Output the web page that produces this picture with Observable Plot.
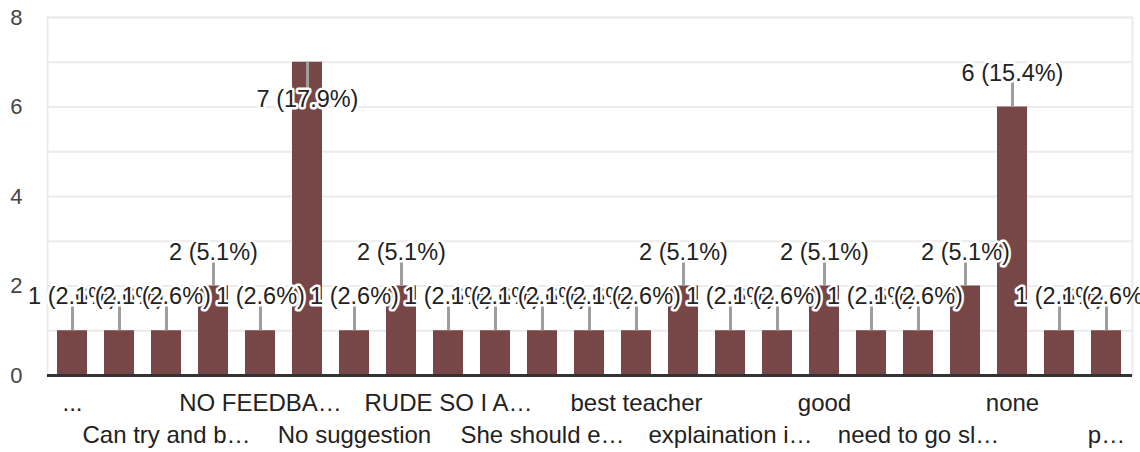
<!DOCTYPE html>
<html>
<head>
<meta charset="utf-8">
<script src="https://cdn.jsdelivr.net/npm/d3@7"></script>
<script src="https://cdn.jsdelivr.net/npm/@observablehq/plot@0.6"></script>
<style>
  html, body { margin: 0; padding: 0; background: #fff; }
  #chart { width: 1140px; height: 452px; overflow: hidden; }
</style>
</head>
<body>
<div id="chart"></div>
<script>
// Categories (as shown, truncated); every other label is hidden in the reference
const categories = ["...", "All good", "Can try and b…", "Fine", "NO FEEDBA…", "No", "No suggestion", "Nothing",
  "RUDE SO I A…", "Satisfied", "She should e…", "Very good", "best teacher", "clear", "explaination i…", "fine",
  "good", "good teacher", "need to go sl…", "no", "none", "nothing", "p…"];
const counts = [1, 1, 1, 2, 1, 7, 1, 2, 1, 1, 1, 1, 1, 2, 1, 1, 2, 1, 1, 2, 6, 1, 1];
const yTickLabels = [0, 2, 4, 6, 8];
const yGridValues = [0, 1, 2, 3, 4, 5, 6, 7, 8];

const W = 1140, H = 452, mT = 17, mB = 77, mL = 47, mR = 8;
const yMax = 8;
const innerH = H - mT - mB;
const k = innerH / yMax; // px per unit
const total = d3.sum(counts);
const data = categories.map((c, i) => {
  const v = counts[i];
  const flip = v * k + 48 > innerH;
  const lead = 26 / k;
  return {
    cat: c, v, i,
    label: `${v} (${(v / total * 100).toFixed(1)}%)`,
    y1: v,
    y2: flip ? v - lead : v + lead,
    ly: flip ? v - 37 / k : v + 34 / k
  };
});
const shown = data.filter(d => d.i % 2 === 0);

const barColor = "#774646";
const font = "'Liberation Sans', Arial, sans-serif";

const chart = Plot.plot({
  width: W, height: H,
  marginTop: mT, marginBottom: mB, marginLeft: mL, marginRight: mR,
  style: { fontFamily: font, fontSize: "24px", background: "#fff", overflow: "visible" },
  x: { type: "band", domain: categories, paddingInner: 0.36, paddingOuter: 0.18, axis: null },
  y: { domain: [0, yMax], axis: null },
  marks: [
    Plot.gridY(yGridValues, { stroke: "#ebebeb", strokeOpacity: 1, strokeWidth: 2 }),
    Plot.frame({ stroke: "#ebebeb", strokeWidth: 2 }),
    Plot.axisY(yTickLabels, { tickSize: 0, tickPadding: 25, fontSize: 22, fill: "#444", textAnchor: "end" }),
    Plot.barY(data, { x: "cat", y: "v", fill: barColor }),
    Plot.ruleY([0], { stroke: "#333", strokeWidth: 3 }),
    Plot.ruleX(data, { x: "cat", y1: "y1", y2: "y2", stroke: "#9e9e9e", strokeWidth: 3 }),
    Plot.text(data, {
      x: "cat", y: "ly", text: "label",
      fill: "#222", stroke: "white", strokeWidth: 5, paintOrder: "stroke",
      fontSize: 23.5
    }),
    Plot.text(shown, {
      x: "cat", text: "cat", frameAnchor: "bottom",
      dy: 35, fill: "#222", fontSize: 24,
      filter: d => (d.i / 2) % 2 === 0
    }),
    Plot.text(shown, {
      x: "cat", text: "cat", frameAnchor: "bottom",
      dy: 67, fill: "#222", fontSize: 24,
      filter: d => (d.i / 2) % 2 === 1
    })
  ]
});

document.getElementById("chart").appendChild(chart);
</script>
</body>
</html>
